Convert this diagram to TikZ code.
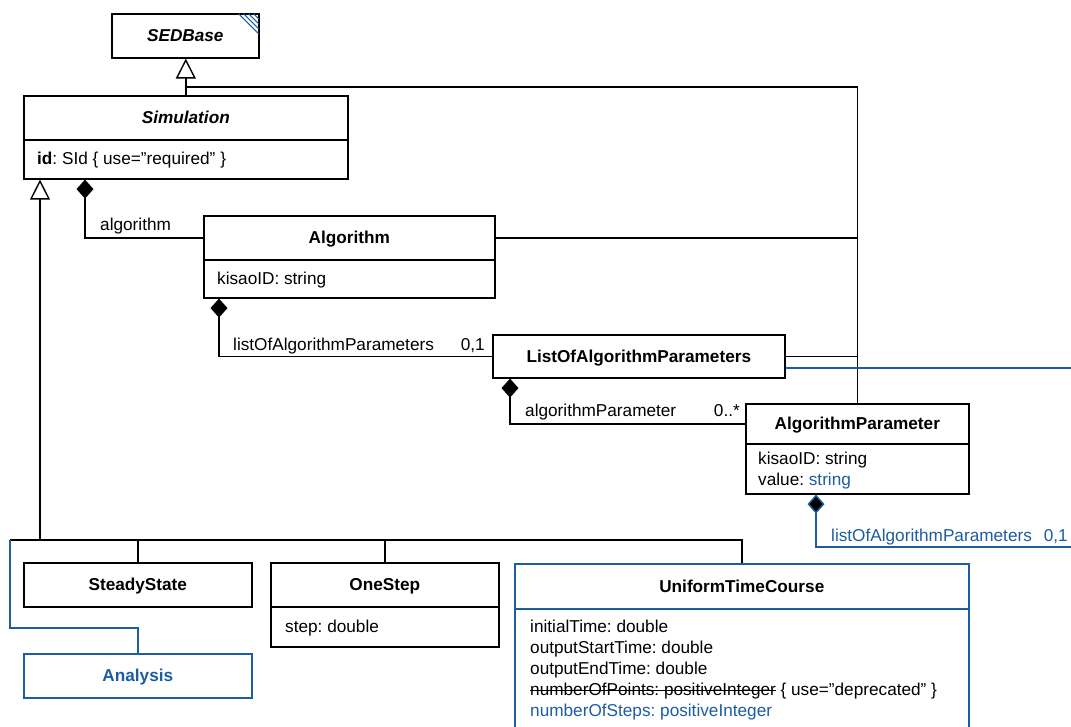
\documentclass[tikz,border=0pt]{standalone}
\usepackage{fontspec}
\setmainfont{Liberation Sans}
\usetikzlibrary{arrows.meta}
\definecolor{sedblue}{RGB}{28,92,160}
\newcommand\fsz{\fontsize{17.2}{21}\selectfont}
\newcommand\strikeit[1]{\setbox0\hbox{#1}\rlap{\rule[0.24em]{\wd0}{1.1pt}}\box0\relax}
\frenchspacing
\begin{document}
\begin{tikzpicture}[x=1pt,y=-1pt,
  box/.style={draw, line width=1.6pt, anchor=north west, inner sep=0pt, font=\fsz\bfseries, text height=12.3pt, text depth=0pt},
  bbox/.style={box, draw=sedblue},
  ln/.style={line width=1.4pt},
  bln/.style={line width=1.4pt, draw=sedblue},
  gen/.style={ln, -{Triangle[open, length=20pt, width=20pt, fill=white]}},
  comp/.style={-{Diamond[length=19pt, width=17pt, fill=black]}},
  txt/.style={inner sep=0pt, font=\fsz},
  lbl/.style={txt, anchor=base west},
  lblr/.style={txt, anchor=base east},
]
\useasboundingbox (0,0) rectangle (1071,726);
\clip (0,0) rectangle (1071,726);

% ---------- classes ----------
\node[box, minimum width=147pt, minimum height=44pt] (sed) at (111,13) {\itshape SEDBase};

\node[box, minimum width=324pt, minimum height=44pt] (simT) at (23,95) {\itshape Simulation};
\node[box, minimum width=324pt, minimum height=39pt] (simA) at (23,139) {};
\node[lbl] (simA1) at (37,164) {\textbf{id}: SId \{ use=”required” \}};

\node[box, minimum width=291pt, minimum height=44pt] (algT) at (203,215) {Algorithm};
\node[box, minimum width=291pt, minimum height=38pt] (algA) at (203,259) {};
\node[lbl] (algA1) at (217,284) {kisaoID: string};

\node[box, minimum width=292pt, minimum height=43pt] (loap) at (492,334) {ListOfAlgorithmParameters};

\node[box, minimum width=223pt, minimum height=40pt] (apT) at (745,403) {AlgorithmParameter};
\node[box, minimum width=223pt, minimum height=50pt] (apA) at (745,443) {};
\node[lbl] (apA1) at (758,464) {kisaoID: string};
\node[lbl] (apA2) at (758,485) {value: \textcolor{sedblue}{string}};

\node[box, minimum width=228pt, minimum height=44pt] (ss) at (23,562) {SteadyState};

\node[box, minimum width=228pt, minimum height=44pt] (osT) at (270,562) {OneStep};
\node[box, minimum width=228pt, minimum height=40pt] (osA) at (270,606) {};
\node[lbl] (osA1) at (285,632) {step: double};

\node[bbox, minimum width=228pt, minimum height=44pt, text=sedblue] (an) at (23,653) {Analysis};

\node[bbox, minimum width=454pt, minimum height=45pt] (utcT) at (514,563) {UniformTimeCourse};
\node[bbox, minimum width=454pt, minimum height=140pt] (utcA) at (514,608) {};
\node[lbl] (utc1) at (530,632) {initialTime: double};
\node[lbl] (utc2) at (530,653) {outputStartTime: double};
\node[lbl] (utc3) at (530,674) {outputEndTime: double};
\node[lbl] (utc4) at (530,695) {\strikeit{numberOfPoints: positiveInteger} \{ use=”deprecated” \}};
\node[lbl, text=sedblue] (utc5) at (530,716) {numberOfSteps: positiveInteger};

% hatch on SEDBase
\foreach \d in {21,16,11,6}
  \draw[sedblue, line width=1.1pt] ([xshift=-\d pt, yshift=-0.8pt]sed.north east) -- ([xshift=-0.8pt, yshift=-\d pt]sed.north east);

% ---------- generalisations ----------
\coordinate (j1) at (185,87);
\draw[gen] (simT.north) -- (simT.north |- sed.south);
\draw[ln] (apT.north) |- (j1);
\draw[ln] (algT.east) -- (algT.east -| apT.north);
\draw[ln] (loap.east) -- (loap.east -| apT.north);

\coordinate (bus) at (40,540);
\coordinate (bl) at (10,540);
\draw[gen] (bus) -- ([xshift=17pt]simA.south west);
\draw[ln] (bus) -- (bl);
\draw[ln] (ss.north) |- (bus);
\draw[ln] (osT.north) |- (bus);
\draw[ln] (utcT.north) |- (bus);
\draw[bln] (an.north) -- ++(0,-25) -| (bl);

% ---------- compositions ----------
\draw[ln, comp] (algT.west) -| ([xshift=62pt]simA.south west);
\node[lbl] (l1) at (100,230) {algorithm};

\draw[ln, comp] (loap.west) -| ([xshift=16pt]algA.south west);
\node[lbl] (l2) at (233,350) {listOfAlgorithmParameters};
\node[lblr] (l2m) at (485,350) {0,1};

\draw[ln, comp] (apT.west) -| ([xshift=18pt]loap.south west);
\node[lbl] (l3) at (525,416) {algorithmParameter};
\node[lblr] (l3m) at (740,416) {0..*};

\coordinate (br1) at (1071,368);
\draw[bln] (loap.east |- br1) -- (br1);
\coordinate (br2) at (1071,547);
\draw[bln, comp] (br2) -| ([xshift=71pt]apA.south west);
\node[lbl, text=sedblue] (l4) at (831,541) {listOfAlgorithmParameters};
\node[lblr, text=sedblue] (l4m) at (1068,541) {0,1};
\end{tikzpicture}
\end{document}
